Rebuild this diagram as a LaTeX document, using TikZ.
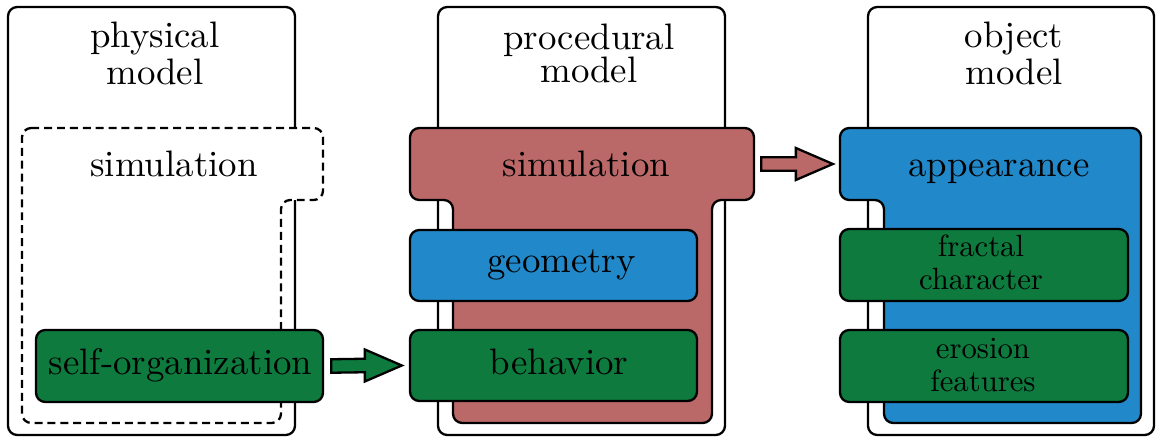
\documentclass[tikz,border=0pt]{standalone}
\usepackage{fontspec}
\usetikzlibrary{calc,fit}

\definecolor{simred}{HTML}{BA6868}
\definecolor{geoblue}{HTML}{2188CA}
\definecolor{featgreen}{HTML}{0E7A3E}

\begin{document}
\begin{tikzpicture}[x=0.3257pt, y=-0.3257pt, line width=0.75pt,
  colbox/.style={draw, fill=white, rounded corners=3pt},
  region/.style={draw, rounded corners=3pt},
  partbox/.style={draw, rounded corners=3pt, inner sep=0pt},
  anchorbox/.style={inner sep=0pt},
  txt/.style={inner sep=0pt, font=\fontsize{10}{8.96}\selectfont, align=center,
    scale=1.2, transform shape},
  smalltxt/.style={inner sep=0pt, font=\fontsize{10}{10.75}\selectfont, align=center},
  blockarrow/.style={draw, line join=miter}
]
\useasboundingbox (0,0) rectangle (1156,438);

% the three model columns
\draw[colbox] (8,7) rectangle (295,435);
\draw[colbox] (438,7) rectangle (725,435);
\draw[colbox] (868,7) rectangle (1154,435);

\node[txt] (hphys) at (155,53.7) {physical\\model};
\node[txt] (hproc) at (589,53.7) {procedural\\model};
\node[txt] (hobj)  at (1014,53.7) {object\\model};

% regions with a head part and a body part
\draw[region, dash pattern=on 2.6pt off 1.6pt, fill=white]
  (22,128) -- (323,128) -- (323,200) -- (281,200) -- (281,423) -- (22,423) -- cycle;
\draw[region, fill=simred]
  (410,128) -- (754,128) -- (754,200) -- (712,200) -- (712,423) -- (453,423)
  -- (453,200) -- (410,200) -- cycle;
\draw[region, fill=geoblue]
  (840,128) -- (1141,128) -- (1141,423) -- (884,423) -- (884,200) -- (840,200) -- cycle;

\node[anchorbox, fit={(410,128) (754,200)}] (simtop) {};
\node[anchorbox, fit={(840,128) (1141,200)}] (apptop) {};

\node[txt, anchor=base] (simL) at (174,177) {simulation};
\node[txt, anchor=base] (simM) at (586.5,177) {simulation};
\node[txt, anchor=base] (appT) at (999,177) {appearance};

% inner blocks
\node[partbox, fill=featgreen, fit={(36,330) (323,402)}] (so) {};
\node[txt, anchor=base] (soT) at (180.5,375) {self-organization};

\node[partbox, fill=geoblue, fit={(410,230) (697,301)}] (geo) {};
\node[txt, anchor=base] (geoT) at (561.5,273) {geometry};

\node[partbox, fill=featgreen, fit={(410,330) (697,401)}] (beh) {};
\node[txt, anchor=base] (behT) at (559,375) {behavior};

\node[partbox, fill=featgreen, fit={(840,229) (1128,301)}] (frac) {};
\node[smalltxt] (fracT) at (981,262.8) {fractal\\character};

\node[partbox, fill=featgreen, fit={(840,330) (1128,402)}] (ero) {};
\node[smalltxt] (eroT) at (983,364.8) {erosion\\features};

% block arrows
\draw[blockarrow, fill=featgreen]
  ($(so.east)+(7,-6.75)$) -- ($(beh.west)+(-44,-6.75)$) -- ($(beh.west)+(-44,-16)$)
  -- ($(beh.west)+(-7,0)$) -- ($(beh.west)+(-44,16)$) -- ($(beh.west)+(-44,6.75)$)
  -- ($(so.east)+(7,6.75)$) -- cycle;
\draw[blockarrow, fill=simred]
  ($(simtop.east)+(6,-6.75)$) -- ($(apptop.west)+(-43,-6.75)$) -- ($(apptop.west)+(-43,-16)$)
  -- ($(apptop.west)+(-6,0)$) -- ($(apptop.west)+(-43,16)$) -- ($(apptop.west)+(-43,6.75)$)
  -- ($(simtop.east)+(6,6.75)$) -- cycle;
\end{tikzpicture}
\end{document}
